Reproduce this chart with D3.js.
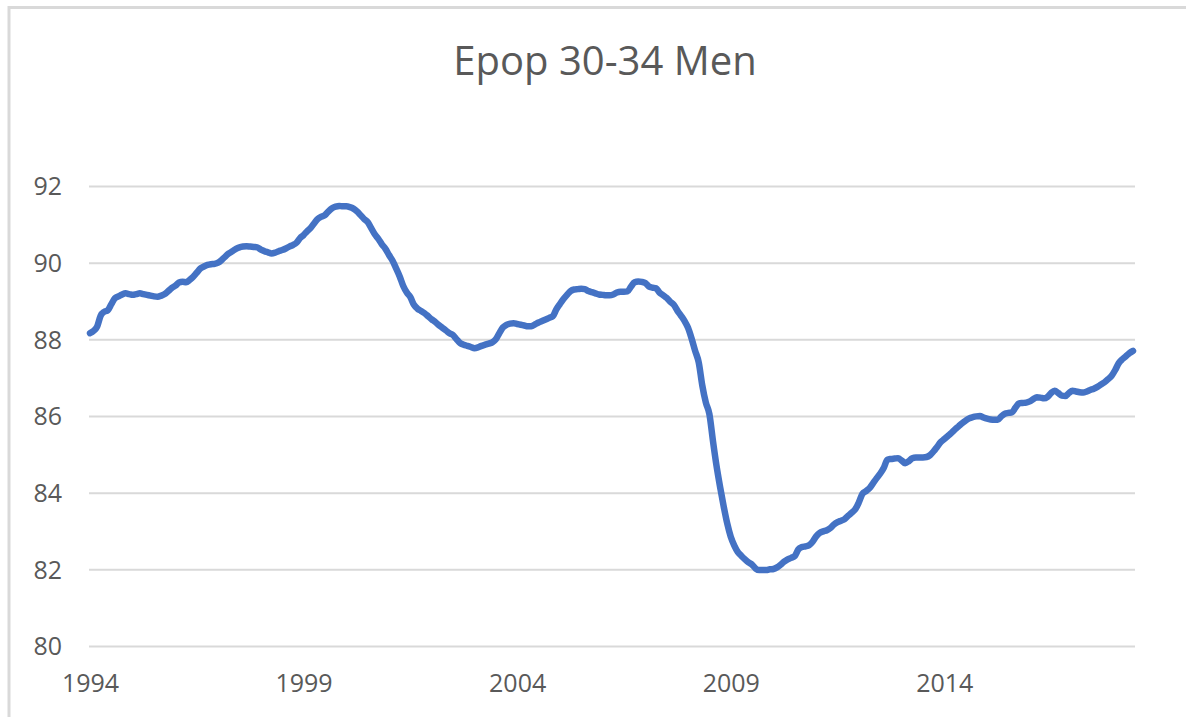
<!DOCTYPE html>
<html>
<head>
<meta charset="utf-8">
<script src="https://cdn.jsdelivr.net/npm/d3@7/dist/d3.min.js"></script>
<style>
  html, body { margin: 0; padding: 0; background: #fff; overflow: hidden; }
  svg { display: block; }
  .tick text { font-family: "Open Sans", sans-serif; fill: #595959; }
</style>
</head>
<body>
<svg id="chart" width="1186" height="717"></svg>
<script>
// monthly series, Jan 1994 .. Jun 2018
const startYear = 1994;
const epop = [
  // 1994
  88.16, 88.22, 88.33, 88.62, 88.72, 88.76, 88.92, 89.07, 89.12, 89.17, 89.20, 89.18,
  // 1995
  89.16, 89.18, 89.20, 89.18, 89.16, 89.14, 89.12, 89.11, 89.14, 89.18, 89.26, 89.34,
  // 1996
  89.40, 89.48, 89.50, 89.49, 89.55, 89.63, 89.74, 89.85, 89.90, 89.94, 89.96, 89.97,
  // 1997
  90.00, 90.07, 90.16, 90.24, 90.30, 90.36, 90.40, 90.42, 90.43, 90.42, 90.41, 90.40,
  // 1998
  90.34, 90.30, 90.27, 90.24, 90.26, 90.30, 90.33, 90.37, 90.42, 90.46, 90.52, 90.64,
  // 1999
  90.72, 90.82, 90.91, 91.03, 91.14, 91.20, 91.24, 91.34, 91.42, 91.46, 91.48, 91.47,
  // 2000
  91.47, 91.45, 91.41, 91.34, 91.24, 91.14, 91.06, 90.90, 90.74, 90.62, 90.48, 90.36,
  // 2001
  90.20, 90.05, 89.85, 89.64, 89.39, 89.22, 89.10, 88.90, 88.80, 88.74, 88.68, 88.60,
  // 2002
  88.52, 88.45, 88.37, 88.30, 88.23, 88.16, 88.11, 88.00, 87.90, 87.86, 87.83, 87.80,
  // 2003
  87.77, 87.79, 87.83, 87.86, 87.89, 87.92, 88.00, 88.16, 88.31, 88.38, 88.41, 88.42,
  // 2004
  88.40, 88.38, 88.36, 88.34, 88.34, 88.39, 88.44, 88.48, 88.52, 88.56, 88.60, 88.78,
  // 2005
  88.92, 89.05, 89.16, 89.26, 89.30, 89.31, 89.32, 89.31, 89.26, 89.23, 89.20, 89.17,
  // 2006
  89.16, 89.15, 89.15, 89.17, 89.22, 89.24, 89.24, 89.25, 89.38, 89.49, 89.51, 89.50,
  // 2007
  89.47, 89.38, 89.35, 89.33, 89.22, 89.15, 89.08, 88.98, 88.90, 88.75, 88.62, 88.48,
  // 2008
  88.30, 88.02, 87.70, 87.40, 86.80, 86.35, 86.05, 85.35, 84.70, 84.15, 83.65, 83.20,
  // 2009
  82.85, 82.62, 82.45, 82.35, 82.26, 82.18, 82.12, 82.02, 81.98, 81.98, 81.98, 82.00,
  // 2010
  82.01, 82.05, 82.12, 82.20, 82.26, 82.30, 82.35, 82.52, 82.58, 82.60, 82.63, 82.72,
  // 2011
  82.86, 82.95, 82.99, 83.02, 83.08, 83.17, 83.23, 83.27, 83.31, 83.40, 83.48, 83.57,
  // 2012
  83.75, 83.97, 84.04, 84.12, 84.25, 84.38, 84.50, 84.65, 84.86, 84.88, 84.89, 84.90,
  // 2013
  84.84, 84.77, 84.82, 84.90, 84.92, 84.92, 84.92, 84.93, 84.98, 85.08, 85.20, 85.32,
  // 2014
  85.40, 85.48, 85.56, 85.65, 85.73, 85.81, 85.88, 85.94, 85.97, 85.99, 86.00, 85.96,
  // 2015
  85.93, 85.91, 85.90, 85.90, 85.99, 86.06, 86.08, 86.10, 86.22, 86.33, 86.34, 86.35,
  // 2016
  86.38, 86.44, 86.49, 86.48, 86.46, 86.50, 86.60, 86.66, 86.60, 86.53, 86.52, 86.60,
  // 2017
  86.66, 86.64, 86.62, 86.61, 86.64, 86.68, 86.71, 86.76, 86.82, 86.88, 86.96, 87.05,
  // 2018
  87.20, 87.38, 87.48, 87.56, 87.64, 87.70
];
const yearLabels = [1994, 1999, 2004, 2009, 2014];
const yTicks = [80, 82, 84, 86, 88, 90, 92];
const title = 'Epop 30-34 Men';

const svg = d3.select('#chart');

// chart area border: only the top and left edges fall inside the picture
svg.append('path')
  .attr('d', 'M9,760V7.5H1200')
  .attr('fill', 'none')
  .attr('stroke', '#d9d9d9')
  .attr('stroke-width', 3);

const x = d3.scaleLinear()
  .domain([0, epop.length - 1])
  .range([90, 1133]);

const y = d3.scaleLinear()
  .domain([80, 92])
  .range([646, 186]);

// gridlines + y labels
const yAxis = svg.append('g')
  .attr('transform', 'translate(89,0)')
  .call(d3.axisLeft(y).tickValues(yTicks).tickSize(-1046).tickPadding(27).tickFormat(d3.format('d')));
yAxis.select('.domain').remove();
yAxis.selectAll('.tick line')
  .attr('stroke', '#d9d9d9')
  .attr('stroke-width', 2);
yAxis.selectAll('.tick text')
  .attr('font-size', 25)
  .attr('dy', '0.35em');

// x labels (category axis, label on first month of the year)
const xAxis = svg.append('g')
  .attr('transform', 'translate(0,646)')
  .call(d3.axisBottom(x)
    .tickValues(yearLabels.map(function (yr) { return (yr - startYear) * 12; }))
    .tickSize(0)
    .tickPadding(28)
    .tickFormat(function (d) { return String(startYear + d / 12); }));
xAxis.select('.domain').remove();
xAxis.selectAll('.tick text')
  .attr('font-size', 25);

// series line
const line = d3.line()
  .x(function (d, i) { return x(i); })
  .y(function (d) { return y(d); })
  .curve(d3.curveMonotoneX);

svg.append('path')
  .datum(epop)
  .attr('d', line)
  .attr('fill', 'none')
  .attr('stroke', '#4472c4')
  .attr('stroke-width', 6.5)
  .attr('stroke-linejoin', 'round')
  .attr('stroke-linecap', 'round');

// title
svg.append('text')
  .attr('x', 605)
  .attr('y', 75)
  .attr('text-anchor', 'middle')
  .attr('font-family', '"Open Sans", sans-serif')
  .attr('font-size', 40)
  .attr('fill', '#595959')
  .text(title);
</script>
</body>
</html>
